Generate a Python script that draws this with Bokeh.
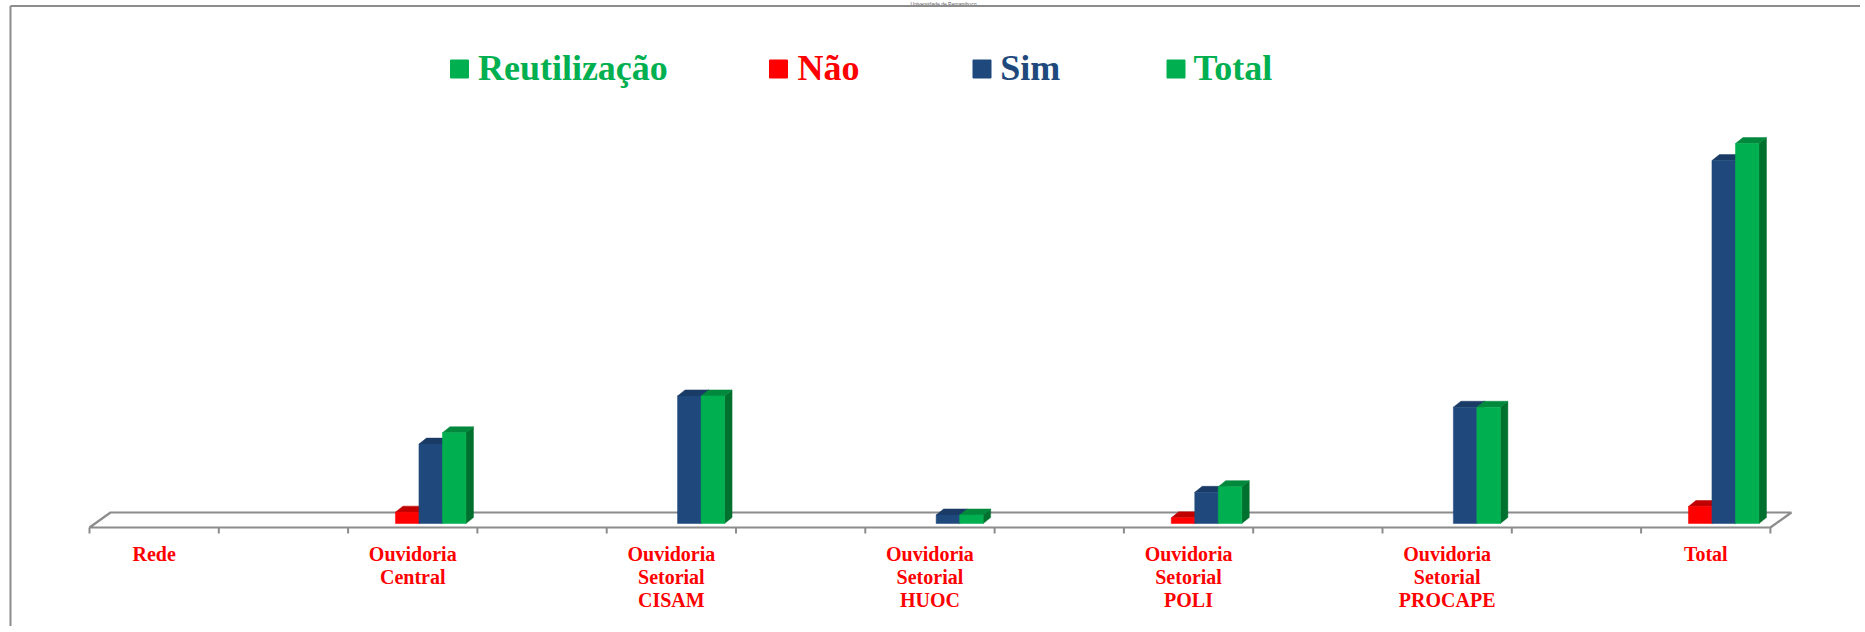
from bokeh.plotting import figure
from bokeh.models import Range1d, ColumnDataSource
from bokeh.embed import file_html
from bokeh.resources import INLINE
from bokeh.core.properties import value

# ---------------- data ----------------
categories = ["Rede", "Ouvidoria\nCentral", "Ouvidoria\nSetorial\nCISAM",
              "Ouvidoria\nSetorial\nHUOC", "Ouvidoria\nSetorial\nPOLI",
              "Ouvidoria\nSetorial\nPROCAPE", "Total"]
nao = [0, 4, 0, 0, 2, 0, 6]
sim = [0, 28, 45, 3, 11, 41, 128]
total = [0, 32, 45, 3, 13, 41, 134]
series_names = ["Não", "Sim", "Total"]
series_values = [nao, sim, total]
legend_names = ["Reutilização", "Não", "Sim", "Total"]
header_text = "Universidade de Pernambuco"

# ---------------- styles ----------------
front_colors = ["#FF0000", "#1F497D", "#00B050"]
top_colors = ["#C00000", "#1A3B66", "#00883D"]
side_colors = ["#A00000", "#162F52", "#00702F"]
legend_colors = ["#00B050", "#FF0000", "#1F497D", "#00B050"]
GRAY = "#8C8C8C"

# ---------------- layout (pixels on the page) ----------------
W, H = 1860, 626
SLOT = 129.3      # px per category slot (13 slots, labels every other)
X0 = 153.65       # px of slot 0 centre
PX = 2.835        # px per unit of value
Y0 = 523          # px (from top) of value 0


def dx(px):
    return px / SLOT


def xd(px):
    return (px - X0) / SLOT


def yd(py):
    return (Y0 - py) / PX


p = figure(width=W, height=H, x_range=Range1d(xd(0), xd(W)),
           y_range=Range1d(yd(H), yd(0)), output_backend="svg",
           toolbar_location=None, x_axis_type=None, y_axis_type=None,
           min_border=0, outline_line_color=None)
p.min_border_left = p.min_border_right = p.min_border_top = p.min_border_bottom = 0
p.background_fill_color = "white"
p.border_fill_color = "white"

n_slots = 2 * len(categories) - 1
bounds = [j - 0.5 for j in range(n_slots + 1)]

# floor (3-D base)
fl, fr = bounds[0], bounds[-1]
depth_x, y_front, y_back = dx(21), yd(527), yd(512)
p.patch([fl, fr, fr + depth_x, fl + depth_x], [y_front, y_front, y_back, y_back],
        fill_color="white", line_color=GRAY, line_width=2.2)
p.segment(x0=bounds, y0=[y_front] * len(bounds), x1=bounds,
          y1=[yd(533)] * len(bounds), line_color=GRAY, line_width=2)

# bars
bw = dx(23.5)
start_off = dx(-17.3)
ddx = dx(7.5)
ddy = 6 / PX
for k, vals in enumerate(series_values):
    fx0, fx1, fb, ft = [], [], [], []
    sx, sy, tx, ty = [], [], [], []
    for i, v in enumerate(vals):
        if v <= 0:
            continue
        left = 2 * i + start_off + k * bw
        right = left + bw
        fx0.append(left); fx1.append(right); fb.append(0); ft.append(v)
        sx.append([right, right + ddx, right + ddx, right])
        sy.append([0, ddy, v + ddy, v])
        tx.append([left, right, right + ddx, left + ddx])
        ty.append([v, v, v + ddy, v + ddy])
    p.patches(sx, sy, fill_color=side_colors[k], line_color=side_colors[k], line_width=0.5)
    p.patches(tx, ty, fill_color=top_colors[k], line_color=top_colors[k], line_width=0.5)
    p.quad(left=fx0, right=fx1, bottom=fb, top=ft, fill_color=front_colors[k],
           line_color=front_colors[k], line_width=0.5)

# category labels
p.text(x=[2 * i for i in range(len(categories))], y=[yd(542.4)] * len(categories),
       text=categories, text_align="center", text_baseline="top",
       text_color="#FF0000", text_font=value("Liberation Serif"),
       text_font_style="bold", text_font_size="20px", text_line_height=1.04)

# legend
sq_x_px = [459, 778, 981.5, 1175.5]
txt_x_px = [477.4, 797, 999.8, 1193]
leg = ColumnDataSource(dict(
    sx=[xd(v) for v in sq_x_px], sy=[yd(68.5)] * 4,
    tx=[xd(v) for v in txt_x_px], ty=[yd(47.8)] * 4,
    name=legend_names, color=legend_colors))
p.scatter(x="sx", y="sy", source=leg, marker="square", size=18,
          fill_color="color", line_color="color")
p.text(x="tx", y="ty", text="name", source=leg, text_color="color",
       text_font=value("Liberation Serif"), text_font_style="bold",
       text_font_size="36px", text_baseline="top", text_align="left")

# small header text above the frame, and the outer frame
p.text(x=[xd(943)], y=[yd(0.3)], text=[header_text], text_align="center",
       text_baseline="top", text_color="#595959",
       text_font=value("Liberation Sans"), text_font_size="5px")
p.segment(x0=[xd(10), xd(10)], y0=[yd(5.5), yd(5.5)], x1=[xd(W), xd(10)],
          y1=[yd(5.5), yd(H)], line_color=GRAY, line_width=2)

open("out.html", "w").write(file_html(p, INLINE))
